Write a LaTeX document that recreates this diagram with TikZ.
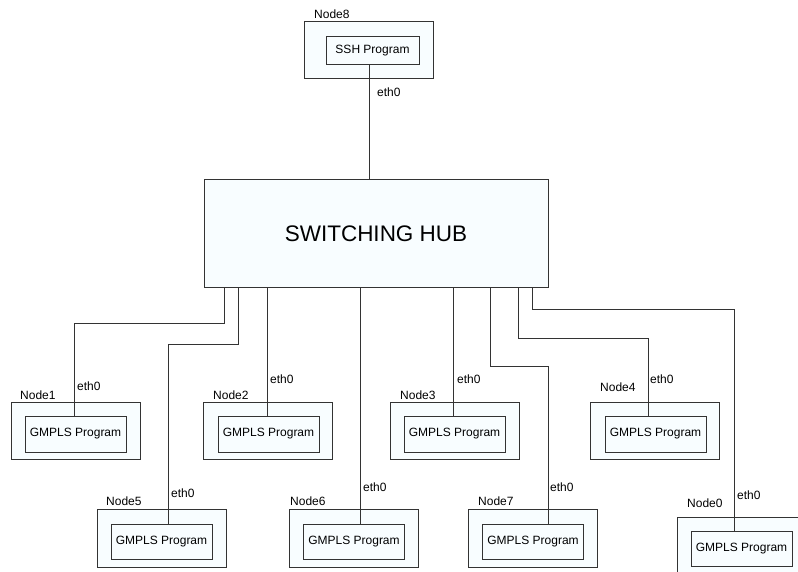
\documentclass[tikz,border=0pt]{standalone}
\usepackage{fontspec}
\setmainfont{Liberation Sans}
\definecolor{boxfill}{HTML}{F8FDFF}
\definecolor{edge}{HTML}{333333}
\begin{document}
\begin{tikzpicture}[x=1pt,y=-1pt,
  outerbox/.style={draw=edge,fill=boxfill,line width=1pt,minimum width=129pt,minimum height=57pt,inner sep=0pt},
  innerbox/.style={draw=edge,fill=boxfill,line width=1pt,minimum width=101pt,minimum height=36pt,inner sep=0pt,font=\fontsize{12}{14}\selectfont},
  lbl/.style={anchor=base west,inner sep=0pt,font=\fontsize{12}{14}\selectfont},
  wire/.style={draw=edge,line width=1pt}]
\clip (0,0) rectangle (798,572);
\fill[white] (0,0) rectangle (798,572);
% Node8
\node[outerbox] (o8) at (368.5,50.5) {};
\node[innerbox,minimum width=93pt,minimum height=28pt] (p8) at (372.5,51) {SSH Program};
\node[lbl] (l8) at (314,19) {Node8};
% hub
\node[draw=edge,fill=boxfill,line width=1pt,minimum width=344pt,minimum height=107pt,inner sep=0pt,font=\fontsize{22.5}{26}\selectfont] (hub) at (376,233.5) {SWITCHING HUB};
% row 1
\node[outerbox] (o1) at (75.5,430.5) {};
\node[innerbox] (p1) at (75.5,434) {GMPLS Program};
\node[lbl] (l1) at (20,399) {Node1};
\node[outerbox] (o2) at (268,430.5) {};
\node[innerbox] (p2) at (268.5,434) {GMPLS Program};
\node[lbl] (l2) at (213,399) {Node2};
\node[outerbox] (o3) at (454.5,430.5) {};
\node[innerbox] (p3) at (454.5,434) {GMPLS Program};
\node[lbl] (l3) at (400,399) {Node3};
\node[outerbox] (o4) at (655,430.5) {};
\node[innerbox] (p4) at (655.5,434) {GMPLS Program};
\node[lbl] (l4) at (600,391) {Node4};
% row 2
\node[outerbox,minimum height=58pt] (o5) at (161.5,538) {};
\node[innerbox,minimum height=35pt] (p5) at (161.5,541.5) {GMPLS Program};
\node[lbl] (l5) at (106,505) {Node5};
\node[outerbox,minimum height=58pt] (o6) at (354,538) {};
\node[innerbox,minimum height=35pt] (p6) at (354,541.5) {GMPLS Program};
\node[lbl] (l6) at (290,505) {Node6};
\node[outerbox,minimum height=58pt] (o7) at (533,538) {};
\node[innerbox,minimum height=35pt] (p7) at (533,541.5) {GMPLS Program};
\node[lbl] (l7) at (478,505) {Node7};
\node[outerbox,minimum height=58pt] (o0) at (741.5,546) {};
\node[innerbox,minimum height=35pt] (p0) at (741.5,548.5) {GMPLS Program};
\node[lbl] (l0) at (687,507) {Node0};
% corners
\coordinate (c8) at (369,0);
\coordinate (k1) at (74,323);
\coordinate (k5) at (168,344);
\coordinate (k7) at (548,366);
\coordinate (k4) at (648,338);
\coordinate (k0) at (734,309);
% wires
\draw[wire] (c8 |- p8.south) -- (c8 |- hub.north);
\draw[wire] ([xshift=21pt]hub.south west) |- (k1) -- (k1 |- p1.north);
\draw[wire] ([xshift=35pt]hub.south west) |- (k5) -- (k5 |- p5.north);
\draw[wire] ([xshift=64pt]hub.south west) -- ++(0,129);
\draw[wire] ([xshift=157pt]hub.south west) -- ++(0,237);
\draw[wire] ([xshift=250pt]hub.south west) -- ++(0,129);
\draw[wire] ([xshift=287pt]hub.south west) |- (k7) -- (k7 |- p7.north);
\draw[wire] ([xshift=315pt]hub.south west) |- (k4) -- (k4 |- p4.north);
\draw[wire] ([xshift=329pt]hub.south west) |- (k0) -- (k0 |- p0.north);
% eth0 labels
\node[lbl] (e8) at (377,97) {eth0};
\node[lbl] (e1) at (77,390) {eth0};
\node[lbl] (e2) at (270,383) {eth0};
\node[lbl] (e3) at (457,383) {eth0};
\node[lbl] (e4) at (650,383) {eth0};
\node[lbl] (e5) at (171,497) {eth0};
\node[lbl] (e6) at (363,491) {eth0};
\node[lbl] (e7) at (550,491) {eth0};
\node[lbl] (e0) at (737,499) {eth0};
\end{tikzpicture}
\end{document}
